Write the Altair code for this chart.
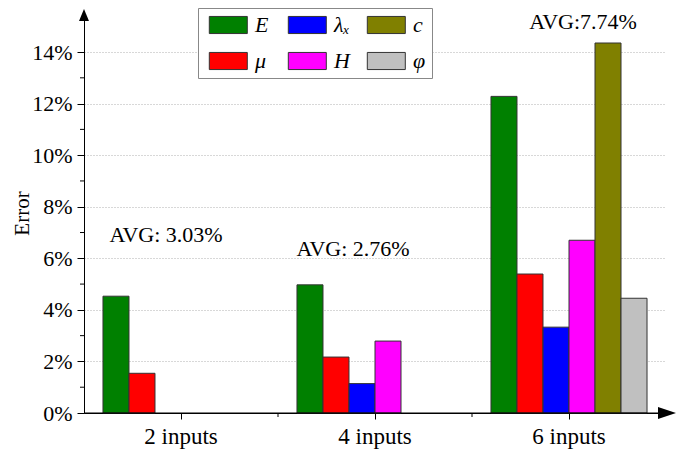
import altair as alt
import pandas as pd

FONT = "Liberation Serif"

# ---- data ----
groups = ["2 inputs", "4 inputs", "6 inputs"]
bar_order = ["E", "μ", "λₓ", "H", "c", "φ"]          # order of bars within a group
legend_order = ["E", "λₓ", "c", "μ", "H", "φ"]       # order of legend entries (row-major)
legend_colors = ["#008000", "#0000ff", "#808000", "#ff0000", "#ff00ff", "#c0c0c0"]

bar_groups = ["2 inputs", "2 inputs",
              "4 inputs", "4 inputs", "4 inputs", "4 inputs",
              "6 inputs", "6 inputs", "6 inputs", "6 inputs", "6 inputs", "6 inputs"]
bar_params = ["E", "μ",
              "E", "μ", "λₓ", "H",
              "E", "μ", "λₓ", "H", "c", "φ"]
bar_values = [0.0453, 0.0154,
              0.0497, 0.0217, 0.0114, 0.0279,
              0.1228, 0.0539, 0.0333, 0.0670, 0.1435, 0.0445]

y_ticks = [0.0, 0.02, 0.04, 0.06, 0.08, 0.10, 0.12, 0.14]
y_minor = [0.01, 0.03, 0.05, 0.07, 0.09, 0.11, 0.13]
x_minor = ["2 inputs", "4 inputs"]

ann_groups = ["2 inputs", "4 inputs", "6 inputs"]
ann_texts = ["AVG: 3.03%", "AVG: 2.76%", "AVG:7.74%"]
ann_y = [0.0663, 0.0609, 0.1490]
ann_dx = [-15, -22, 14]

W, H = 582, 395
YMAX = 0.1532

df = pd.DataFrame({"group": bar_groups, "param": bar_params, "err": bar_values})

xscale = alt.Scale(domain=groups, paddingInner=0, paddingOuter=0)
yscale = alt.Scale(domain=[0, YMAX], nice=False, zero=True)

bars = alt.Chart(df).mark_bar(stroke="#333333", strokeWidth=1).encode(
    x=alt.X("group:N", scale=xscale, sort=groups,
            axis=alt.Axis(title=None, labelAngle=0, labelFont=FONT, labelFontSize=23,
                          labelColor="black", tickSize=6, tickColor="black",
                          domainColor="black", labelPadding=6, grid=False)),
    xOffset=alt.XOffset("param:N",
                        scale=alt.Scale(domain=bar_order, paddingInner=0, paddingOuter=0.73)),
    y=alt.Y("err:Q", scale=yscale,
            axis=alt.Axis(values=y_ticks, format=".0%", labelFont=FONT, labelFontSize=22,
                          labelColor="black", tickSize=7, tickColor="black",
                          domainColor="black", labelPadding=5,
                          grid=True, gridDash=[1, 2], gridColor="#b0b0b0",
                          title="Error", titleFont=FONT, titleFontSize=21,
                          titleFontWeight="normal", titleColor="black",
                          titleAngle=270, titleX=-62, titleY=195,
                          titleAlign="center", titleBaseline="middle")),
    color=alt.Color("param:N",
                    scale=alt.Scale(domain=legend_order, range=legend_colors),
                    legend=alt.Legend(title=None, orient="none", legendX=114, legendY=-10,
                                      direction="horizontal", columns=3,
                                      symbolType="M-0.6,-0.9H3.4V0.9H-0.6Z", symbolSize=361,
                                      symbolStrokeColor="#333333", symbolStrokeWidth=1,
                                      labelFont=FONT, labelFontSize=22,
                                      labelFontStyle="italic", labelColor="black",
                                      labelOffset=29, columnPadding=12, rowPadding=14,
                                      padding=6, strokeColor="#888888", fillColor="white",
                                      gridAlign="all")),
)

ymin_df = pd.DataFrame({"err": y_minor})
ymin = alt.Chart(ymin_df).mark_rule(color="black").encode(
    y="err:Q", x=alt.value(-4), x2=alt.value(0))

xmin_df = pd.DataFrame({"group": x_minor})
xmin = alt.Chart(xmin_df).mark_rule(color="black").encode(
    x=alt.X("group:N", bandPosition=1), y=alt.value(H), y2=alt.value(H + 4))

ann_layers = []
for g, t, v, d in zip(ann_groups, ann_texts, ann_y, ann_dx):
    adf = pd.DataFrame({"group": [g], "err": [v], "label": [t]})
    ann_layers.append(
        alt.Chart(adf).mark_text(font=FONT, fontSize=22, color="black", align="center",
                                 baseline="alphabetic", dx=d).encode(
            x="group:N", y="err:Q", text="label:N"))

one = pd.DataFrame({"a": [0]})
yarrow = alt.Chart(one).mark_point(shape="M-0.83,1L0,-1L0.83,1Z", size=144, filled=True,
                                   color="black", opacity=1).encode(
    x=alt.value(0), y=alt.value(-3))
xline = alt.Chart(one).mark_rule(color="black").encode(
    x=alt.value(0), x2=alt.value(W + 2), y=alt.value(H))
xarrow = alt.Chart(one).mark_point(shape="M-1,-0.67L1,0L-1,0.67Z", size=324, filled=True,
                                   color="black", opacity=1).encode(
    x=alt.value(W + 1), y=alt.value(H))

chart = alt.layer(bars, ymin, xmin, *ann_layers, xline, yarrow, xarrow).properties(
    width=W, height=H,
    padding={"left": 76, "top": 10, "right": 11, "bottom": 40},
    autosize=alt.AutoSizeParams(type="none"),
    background="white",
).configure_view(stroke="transparent")

chart.save("out.html", embed_options={"renderer": "svg", "actions": False})
